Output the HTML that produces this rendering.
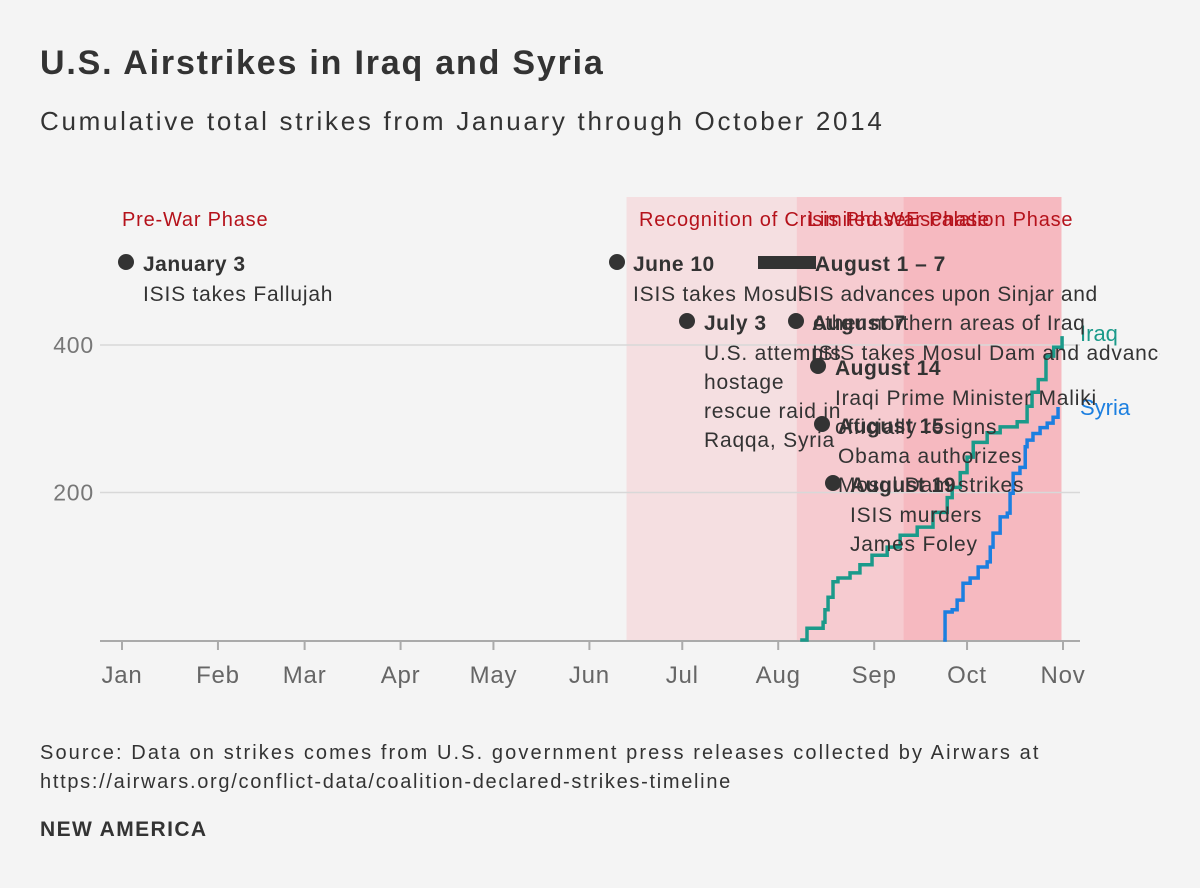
<!DOCTYPE html>
<html><head><meta charset="utf-8"><style>
body{margin:0;background:#f4f4f4;font-family:"Liberation Sans",sans-serif;}
svg{display:block}
text{font-family:"Liberation Sans",sans-serif;}
</style></head><body>
<svg id="chart" width="1200" height="888">
<rect width="1200" height="888" fill="#f4f4f4"/>
<text x="40" y="74" font-size="34" font-weight="bold" fill="#333" letter-spacing="1.8">U.S. Airstrikes in Iraq and Syria</text>
<text x="40" y="130" font-size="26" fill="#333" letter-spacing="2.7">Cumulative total strikes from January through October 2014</text>
<g id="phases"></g>
<g id="grid"></g>
<g id="lines"></g>
<g id="annots"></g>
<text x="40" y="759" font-size="20" fill="#333" letter-spacing="2.1">Source: Data on strikes comes from U.S. government press releases collected by Airwars at</text>
<text x="40" y="788" font-size="20" fill="#333" letter-spacing="1.7">https://airwars.org/conflict-data/coalition-declared-strikes-timeline</text>
<text x="40" y="836" font-size="21" font-weight="bold" fill="#333" letter-spacing="1.4">NEW AMERICA</text>
</svg>
<script>
// days since Jan 1 2014
const monthLabels=["Jan","Feb","Mar","Apr","May","Jun","Jul","Aug","Sep","Oct","Nov"];
const monthDays=[0,31,59,90,120,151,181,212,243,273,304];
const yTicks=[200,400];
const phaseNames=["Pre-War Phase","Recognition of Crisis Phase","Limited War Phase","Escalation Phase"];
const phaseStart=[0,163,218,252.5];
const phaseEnd=[163,303.5,303.5,303.5];
const iraqDays=[219.1,221.3,226.5,227.1,228.1,229.7,231.3,235.2,238.4,242.3,247.2,251.4,256.9,262,266.6,268.2,270.8,273,275,279.5,283.7,289.2,292.4,294,296,298.5,301,303.7];
const iraqVals=[0,16,24,41,58,79,84,91,102,115,126,142,153,173,193,207,227,248,268,281,289,296,317,336,353,385,397,412];
const syriaDays=[265.3,265.9,268.2,269.8,271.7,274,276.6,279.5,280.5,281.4,283.7,286,286.9,287.9,290.1,291.8,292.4,294.3,296.6,298.9,300.8,302.4];
const syriaVals=[0,38,41,54,77,84,99,106,126,145,167,172,199,226,234,262,271,280,288,294,302,316];
const X0=122,X1=1063,Y0=640,YS=0.7375;
const x=d=>X0+d*(X1-X0)/304;
const y=v=>Y0-v*YS;
const NS="http://www.w3.org/2000/svg";
function mk(tag,attrs,parent,txt){const e=document.createElementNS(NS,tag);for(const k in attrs)e.setAttribute(k,attrs[k]);if(txt!==undefined)e.textContent=txt;parent.appendChild(e);return e;}
const ph=document.getElementById('phases');
const fills=["none","#f5dfe1","#f6cbd0","#f6b9c0"];
for(let i=1;i<4;i++){const r=mk('rect',{x:x(phaseStart[i]),y:197,width:x(phaseEnd[i])-x(phaseStart[i]),height:Y0-197,fill:fills[i]},ph);

}
const phLabelX=[122,639,808,906];
phaseNames.forEach((n,i)=>{const t=mk('text',{x:phLabelX[i],y:226,'font-size':20,fill:'#b5121b','letter-spacing':0.8},ph,n);

});
const g=document.getElementById('grid');
yTicks.forEach(v=>{const l=mk('line',{x1:100,x2:1080,y1:y(v),y2:y(v),stroke:'#d8d8d8','stroke-width':1.5},g);


const t=mk('text',{x:94,y:y(v)+8,'font-size':23,fill:'#777','text-anchor':'end','letter-spacing':0.8},g,v);

});
const ax=mk('line',{x1:100,x2:1080,y1:Y0+1,y2:Y0+1,stroke:'#aaa','stroke-width':2},g);


monthDays.forEach((d,i)=>{mk('line',{x1:x(d),x2:x(d),y1:Y0+1,y2:Y0+10,stroke:'#aaa','stroke-width':2},g);
const t=mk('text',{x:x(d),y:Y0+43,'font-size':24,fill:'#666','text-anchor':'middle','letter-spacing':0.8},g,monthLabels[i]);

});
function step(days,vals){let p='M'+x(days[0])+','+y(vals[0]);for(let i=1;i<days.length;i++){p+=' H'+x(days[i])+' V'+y(vals[i]);}return p;}
const L=document.getElementById('lines');
const li=mk('path',{d:step(iraqDays,iraqVals),fill:'none',stroke:'#1b9a8a','stroke-width':3.5},L);


const ls=mk('path',{d:step(syriaDays,syriaVals),fill:'none',stroke:'#1c7fe0','stroke-width':3.5},L);


const t1=mk('text',{x:1080,y:341,'font-size':22,fill:'#1b9a8a'},L,'Iraq');


const t2=mk('text',{x:1080,y:415,'font-size':22,fill:'#1c7fe0'},L,'Syria');


const A=document.getElementById('annots');
const annots=[
 [126,262,143,"January 3",["ISIS takes Fallujah"],0],
 [617,262,633,"June 10",["ISIS takes Mosul"],0],
 [0,262,815,"August 1 – 7",[],1],
 [687,321,704,"July 3",["U.S. attempts","hostage","rescue raid in","Raqqa, Syria"],0],
 [796,321,812,"August 7",["ISIS takes Mosul Dam and advances"],0],
 [818,366,835,"August 14",["Iraqi Prime Minister Maliki","officially resigns"],0],
 [822,424,838,"August 15",["Obama authorizes","Mosul Dam strikes"],0],
 [833,483,850,"August 19",["ISIS murders","James Foley"],0]
];
const cp=mk('clipPath',{id:'cl'},A);mk('rect',{x:0,y:0,width:1160,height:888},cp);
const ag=mk('g',{'clip-path':'url(#cl)'},A);
annots.forEach(a=>{
 if(a[5]){const r=mk('rect',{x:758,y:256,width:58,height:13,fill:'#333'},ag);}
 else{const c=mk('circle',{cx:a[0],cy:a[1],r:8,fill:'#333'},ag);}
 const b=mk('text',{x:a[2],y:a[1]+9,'font-size':21,'font-weight':'bold',fill:'#333','letter-spacing':0.5},ag,a[3]);
 
 
 a[4].forEach((s,j)=>{const t=mk('text',{x:a[2],y:a[1]+39+29*j,'font-size':21,fill:'#333','letter-spacing':0.8},ag,s);
 
 });
});
const e1=mk('text',{x:792,y:301,'font-size':21,fill:'#333','letter-spacing':0.6},ag,'ISIS advances upon Sinjar and');


const e2=mk('text',{x:813,y:330,'font-size':21,fill:'#333','letter-spacing':0.6},ag,'other northern areas of Iraq');


</script>
</body></html>
